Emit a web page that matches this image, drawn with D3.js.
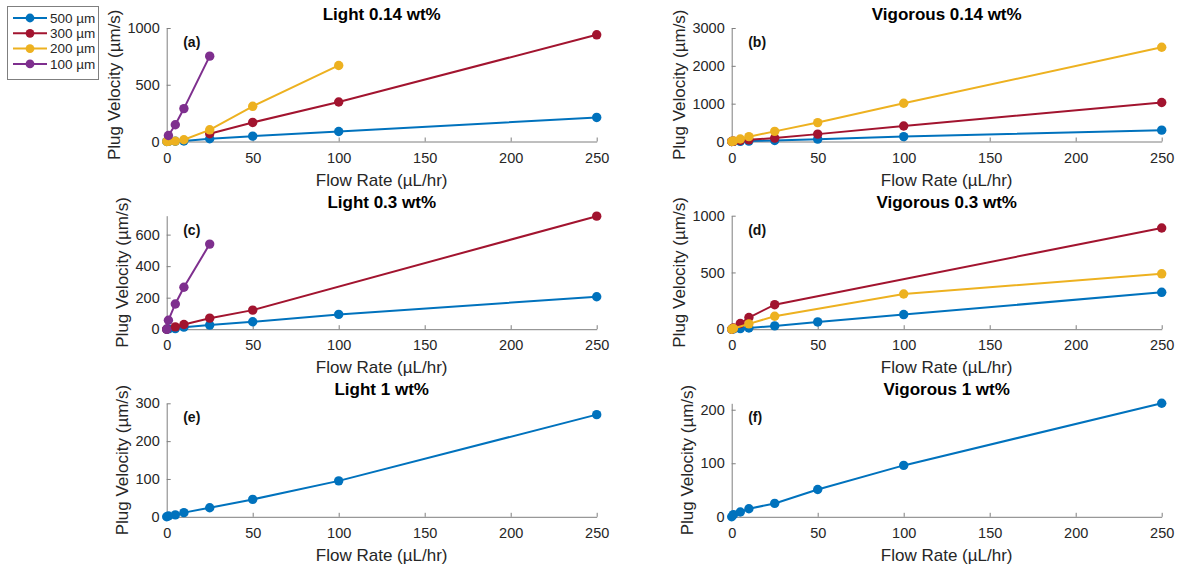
<!DOCTYPE html>
<html>
<head>
<meta charset="utf-8">
<script src="https://cdn.jsdelivr.net/npm/d3@7"></script>
<style>
  body { margin: 0; background: #fff; }
  text { font-family: "Liberation Sans", Arial, Helvetica, sans-serif; fill: #262626; }
</style>
</head>
<body>
<div id="wrapper"></div>
<script>
// flow rates (µL/hr) shared by all series
const flowRates = [0, 1, 5, 10, 25, 50, 100, 250];
const sizes = ["500 µm", "300 µm", "200 µm", "100 µm"];
const colors = ["#0072BD", "#A2142F", "#EDB120", "#7E2F8E"];
const xTicks = [0, 50, 100, 150, 200, 250];

// (a) Light 0.14 wt%
const a500 = [0, 1, 2, 5, 24, 47, 88, 212];
const a300 = [null, null, null, null, 68, 168, 348, 940];
const a200 = [0, 1, 3, 15, 103, 310, 670, null];
const a100 = [null, 53, 148, 290, 752, null, null, null];
// (b) Vigorous 0.14 wt%
const b500 = [0, 2, 5, 10, 26, 62, 130, 300];
const b300 = [0, 5, 26, 44, 90, 195, 410, 1030];
const b200 = [0, 12, 65, 128, 268, 500, 1010, 2490];
// (c) Light 0.3 wt%
const c500 = [0, 2, 4, 13, 26, 47, 94, 206];
const c300 = [0, null, 15, 30, 70, 121, null, 717];
const c100 = [0, 57, 160, 266, 540, null, null, null];
// (d) Vigorous 0.3 wt%
const d500 = [0, 2, 5, 11, 29, 64, 129, 325];
const d300 = [0, 10, 50, 103, 216, null, null, 892];
const d200 = [0, 6, null, 47, 114, null, 310, 488];
// (e) Light 1 wt%
const e500 = [0, 2, 5, 11, 24, 46, 95, 270];
const e500err = [0, 0, 0, 0, 0, 0, 0, 10];
// (f) Vigorous 1 wt%
const f500 = [0, 4, 9, 15, 25, 51, 96, 212];

const panels = [
    { title: "Light 0.14 wt%", tag: "(a)", col: 0, row: 0, ymax: 1000, yTicks: [0, 500, 1000],
      series: [[0, a500], [1, a300], [2, a200], [3, a100]] },
    { title: "Vigorous 0.14 wt%", tag: "(b)", col: 1, row: 0, ymax: 3000, yTicks: [0, 1000, 2000, 3000],
      series: [[0, b500], [1, b300], [2, b200]] },
    { title: "Light 0.3 wt%", tag: "(c)", col: 0, row: 1, ymax: 720, yTicks: [0, 200, 400, 600],
      series: [[0, c500], [1, c300], [3, c100]] },
    { title: "Vigorous 0.3 wt%", tag: "(d)", col: 1, row: 1, ymax: 1000, yTicks: [0, 500, 1000],
      series: [[0, d500], [1, d300], [2, d200]] },
    { title: "Light 1 wt%", tag: "(e)", col: 0, row: 2, ymax: 300, yTicks: [0, 100, 200, 300],
      series: [[0, e500, e500err]] },
    { title: "Vigorous 1 wt%", tag: "(f)", col: 1, row: 2, ymax: 212, yTicks: [0, 100, 200],
      series: [[0, f500]] }
];

const width = 1182, height = 571;
const colLeft = [166.7, 731.7], colWidth = 430;
const rowTop = [28, 215.7, 403.3], rowHeight = 113.5;

const svg = d3.select("#wrapper").append("svg")
    .attr("width", width)
    .attr("height", height);

panels.forEach(p => {
    const left = colLeft[p.col], top = rowTop[p.row];
    const x = d3.scaleLinear().domain([0, 250]).range([0, colWidth]);
    const y = d3.scaleLinear().domain([0, p.ymax]).range([rowHeight, 0]);
    const g = svg.append("g").attr("transform", `translate(${left},${top})`);

    const xAxis = g.append("g")
        .attr("transform", `translate(0,${rowHeight})`)
        .call(d3.axisBottom(x).tickValues(xTicks).tickFormat(d3.format("d"))
            .tickSizeInner(-4).tickSizeOuter(0).tickPadding(11));
    const yAxis = g.append("g")
        .call(d3.axisLeft(y).tickValues(p.yTicks).tickFormat(d3.format("d"))
            .tickSizeInner(-4).tickSizeOuter(0).tickPadding(7));
    [xAxis, yAxis].forEach(ax => {
        ax.select(".domain").attr("stroke", "#7f7f7f");
        ax.selectAll(".tick line").attr("stroke", "#7f7f7f");
        ax.selectAll(".tick text").style("font-size", "14.5px").attr("fill", "#262626")
            .style("font-family", "'Liberation Sans', Arial, sans-serif");
    });

    const tickLeft = yAxis.node().getBBox().x;

    g.append("text")
        .attr("x", colWidth / 2).attr("y", -8)
        .attr("text-anchor", "middle")
        .style("font-size", "17px").style("font-weight", "bold")
        .style("fill", "#000")
        .text(p.title);

    g.append("text")
        .attr("x", colWidth / 2).attr("y", rowHeight + 44)
        .attr("text-anchor", "middle")
        .style("font-size", "17px")
        .text("Flow Rate (µL/hr)");

    g.append("text")
        .attr("transform", `translate(${tickLeft - 7},${rowHeight / 2}) rotate(-90)`)
        .attr("text-anchor", "middle")
        .style("font-size", "17px")
        .text("Plug Velocity (µm/s)");

    g.append("text")
        .attr("x", 16.5).attr("y", 19)
        .style("font-size", "14px").style("font-weight", "bold")
        .style("fill", "#111")
        .text(p.tag);

    const line = d3.line().x(d => x(d[0])).y(d => y(d[1]));

    p.series.forEach(([ci, vals, errs]) => {
        const pts = flowRates.map((f, i) => [f, vals[i], errs ? errs[i] : 0])
            .filter(d => d[1] != null);
        const sg = g.append("g");
        sg.append("path")
            .datum(pts)
            .attr("d", line)
            .attr("fill", "none")
            .attr("stroke", colors[ci])
            .attr("stroke-width", 2);
        sg.selectAll("line.err")
            .data(pts.filter(d => d[2] > 0))
            .enter()
            .append("line")
            .attr("class", "err")
            .attr("x1", d => x(d[0])).attr("x2", d => x(d[0]))
            .attr("y1", d => y(d[1] - d[2])).attr("y2", d => y(d[1] + d[2]))
            .attr("stroke", colors[ci])
            .attr("stroke-width", 2);
        sg.selectAll("circle")
            .data(pts)
            .enter()
            .append("circle")
            .attr("cx", d => x(d[0]))
            .attr("cy", d => y(d[1]))
            .attr("r", 4.7)
            .attr("fill", colors[ci]);
    });
});

// legend
const legend = svg.append("g").attr("transform", "translate(7,6)");
legend.append("rect")
    .attr("x", 0.5).attr("y", 0.5)
    .attr("width", 91).attr("height", 73)
    .attr("fill", "#fff")
    .attr("stroke", "#7f7f7f");
const items = legend.selectAll("g.item")
    .data(sizes)
    .enter()
    .append("g")
    .attr("class", "item")
    .attr("transform", (d, i) => `translate(0,${12 + i * 15.3})`);
items.append("line")
    .attr("x1", 6).attr("x2", 40)
    .attr("stroke", (d, i) => colors[i])
    .attr("stroke-width", 2);
items.append("circle")
    .attr("cx", 23).attr("r", 4.4)
    .attr("fill", (d, i) => colors[i]);
items.append("text")
    .attr("x", 43).attr("dy", "0.35em")
    .style("font-size", "13.5px")
    .text(d => d);
</script>
</body>
</html>
